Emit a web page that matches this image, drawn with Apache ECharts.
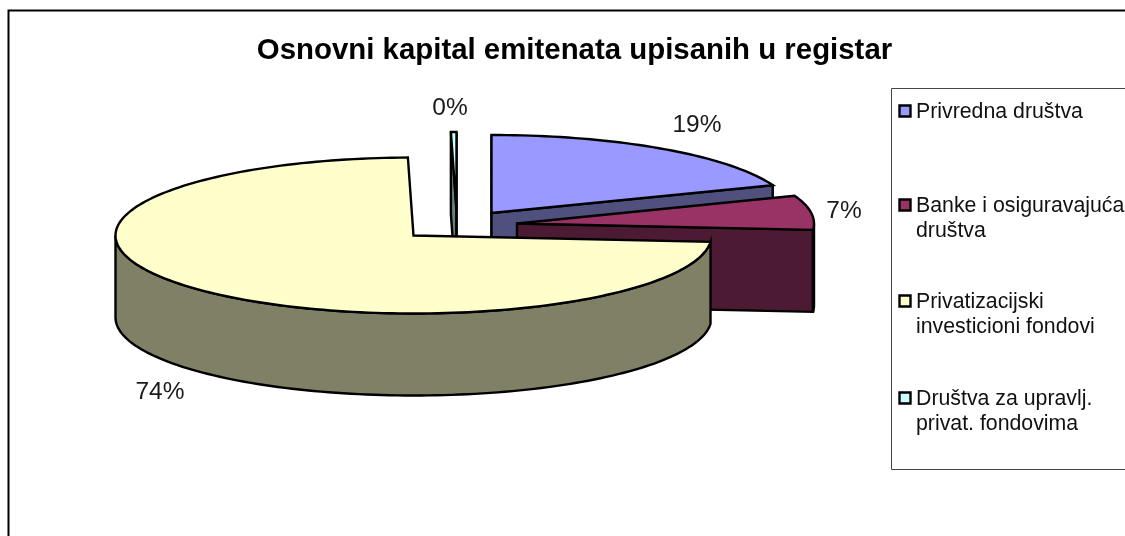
<!DOCTYPE html>
<html><head><meta charset="utf-8">
<style>html,body{margin:0;padding:0;background:#fff}#c{width:1125px;height:536px;overflow:hidden}</style>
<script src="https://cdn.jsdelivr.net/npm/echarts@6/dist/echarts.min.js"></script>
</head><body><div id="c"></div>
<script>
const chartTitle = 'Osnovni kapital emitenata upisanih u registar';
const categories = ['Privredna društva', 'Banke i osiguravajuća društva', 'Privatizacijski investicioni fondovi', 'Društva za upravlj. privat. fondovima'];
const values = [19.2, 7.1, 73.4, 0.3];
const percentLabels = ['19%', '7%', '74%', '0%'];

const legendLines = [['Privredna društva'], ['Banke i osiguravajuća', 'društva'], ['Privatizacijski', 'investicioni fondovi'], ['Društva za upravlj.', 'privat. fondovima']];
const topColors = ['#9999ff', '#993366', '#ffffcc', '#ccffff'];
const wallColors = ['#50507f', '#4d1a33', '#808066', '#668080'];
const apexes = [[491.5, 213], [517, 223.5], [413.5, 235.5], [456.5, 210]];
const radiiX = [301, 297, 298, 298];
const labelPos = [[697, 125], [844, 211], [160, 392], [450, 108]];
const legendY = [111, 205, 301, 398];
const drawOrder = [3, 0, 1, 2];
const RY = 78, DEPTH = 82;
const FONT = '"Liberation Sans", Arial, sans-serif';

const total = values.reduce((a, b) => a + b, 0);
const spans = [];
values.reduce((acc, v, i) => { spans[i] = [acc / total * 360, (acc + v) / total * 360]; return acc + v; }, 0);

function renderSlice(i) {
  const [a0, a1] = spans[i], [cx, cy] = apexes[i], rx = radiiX[i];
  const pt = (deg, dz) => { const t = deg * Math.PI / 180; return [cx + rx * Math.sin(t), cy - RY * Math.cos(t) + (dz || 0)]; };
  const arc = (s, e, dz) => { const n = Math.max(2, Math.ceil((e - s) / 1.5)), out = []; for (let k = 0; k <= n; k++) out.push(pt(s + (e - s) * k / n, dz)); return out; };
  const sty = fill => ({ fill, stroke: '#000', lineWidth: 2.4, lineJoin: 'miter', miterLimit: 6 });
  const kids = [];
  const radial = a => kids.push({ type: 'polygon', shape: { points: [[cx, cy], pt(a), pt(a, DEPTH), [cx, cy + DEPTH]] }, style: sty(wallColors[i]) });
  const startN = (a0 - 90 + 720) % 360, endN = (a1 + 90) % 360;
  if (startN >= 90 && startN <= 270) radial(a0);
  if (endN >= 90 && endN <= 270) radial(a1);
  const ws = Math.max(a0, 90), we = Math.min(a1, 270);
  if (we > ws) kids.push({ type: 'polygon', shape: { points: arc(ws, we, 0).concat(arc(ws, we, DEPTH).reverse()) }, style: sty(wallColors[i]) });
  kids.push({ type: 'polygon', shape: { points: [[cx, cy]].concat(arc(a0, a1, 0)) }, style: sty(topColors[i]) });
  kids.push({ type: 'text', style: { text: percentLabels[i], x: labelPos[i][0], y: labelPos[i][1], font: '24.5px ' + FONT, fill: '#1a1a1a', align: 'center', verticalAlign: 'middle' } });
  return { type: 'group', children: kids };
}

const graphics = [
  { type: 'polyline', shape: { points: [[8.5, 536], [8.5, 10.5], [1125, 10.5]] }, style: { fill: null, stroke: '#000', lineWidth: 2 } },
  { type: 'polyline', shape: { points: [[1125, 88.5], [891.5, 88.5], [891.5, 469.5], [1125, 469.5]] }, style: { fill: null, stroke: '#444', lineWidth: 1 } }
];
categories.forEach((c, i) => {
  graphics.push({ type: 'rect', shape: { x: 899.5, y: legendY[i] - 5.5, width: 11, height: 11 }, style: { fill: topColors[i], stroke: '#000', lineWidth: 2.4 } });
  legendLines[i].forEach((ln, k) => graphics.push({ type: 'text', style: { text: ln, x: 916, y: legendY[i] + 1 + k * 25.5, font: '21.3px ' + FONT, fill: '#111', verticalAlign: 'middle' } }));
});

const chart = echarts.init(document.getElementById('c'), null, { renderer: 'canvas' });
chart.setOption({
  animation: false,
  backgroundColor: '#fff',
  title: { text: chartTitle, left: 569.5, top: 31.5, textAlign: 'center', textStyle: { fontFamily: FONT, fontSize: 29.4, fontWeight: 'bold', color: '#000' } },
  graphic: graphics,
  series: drawOrder.map(i => ({
    type: 'custom', name: categories[i], coordinateSystem: 'none', silent: true,
    data: [[values[i]]],
    renderItem: () => renderSlice(i)
  }))
});
</script></body></html>
